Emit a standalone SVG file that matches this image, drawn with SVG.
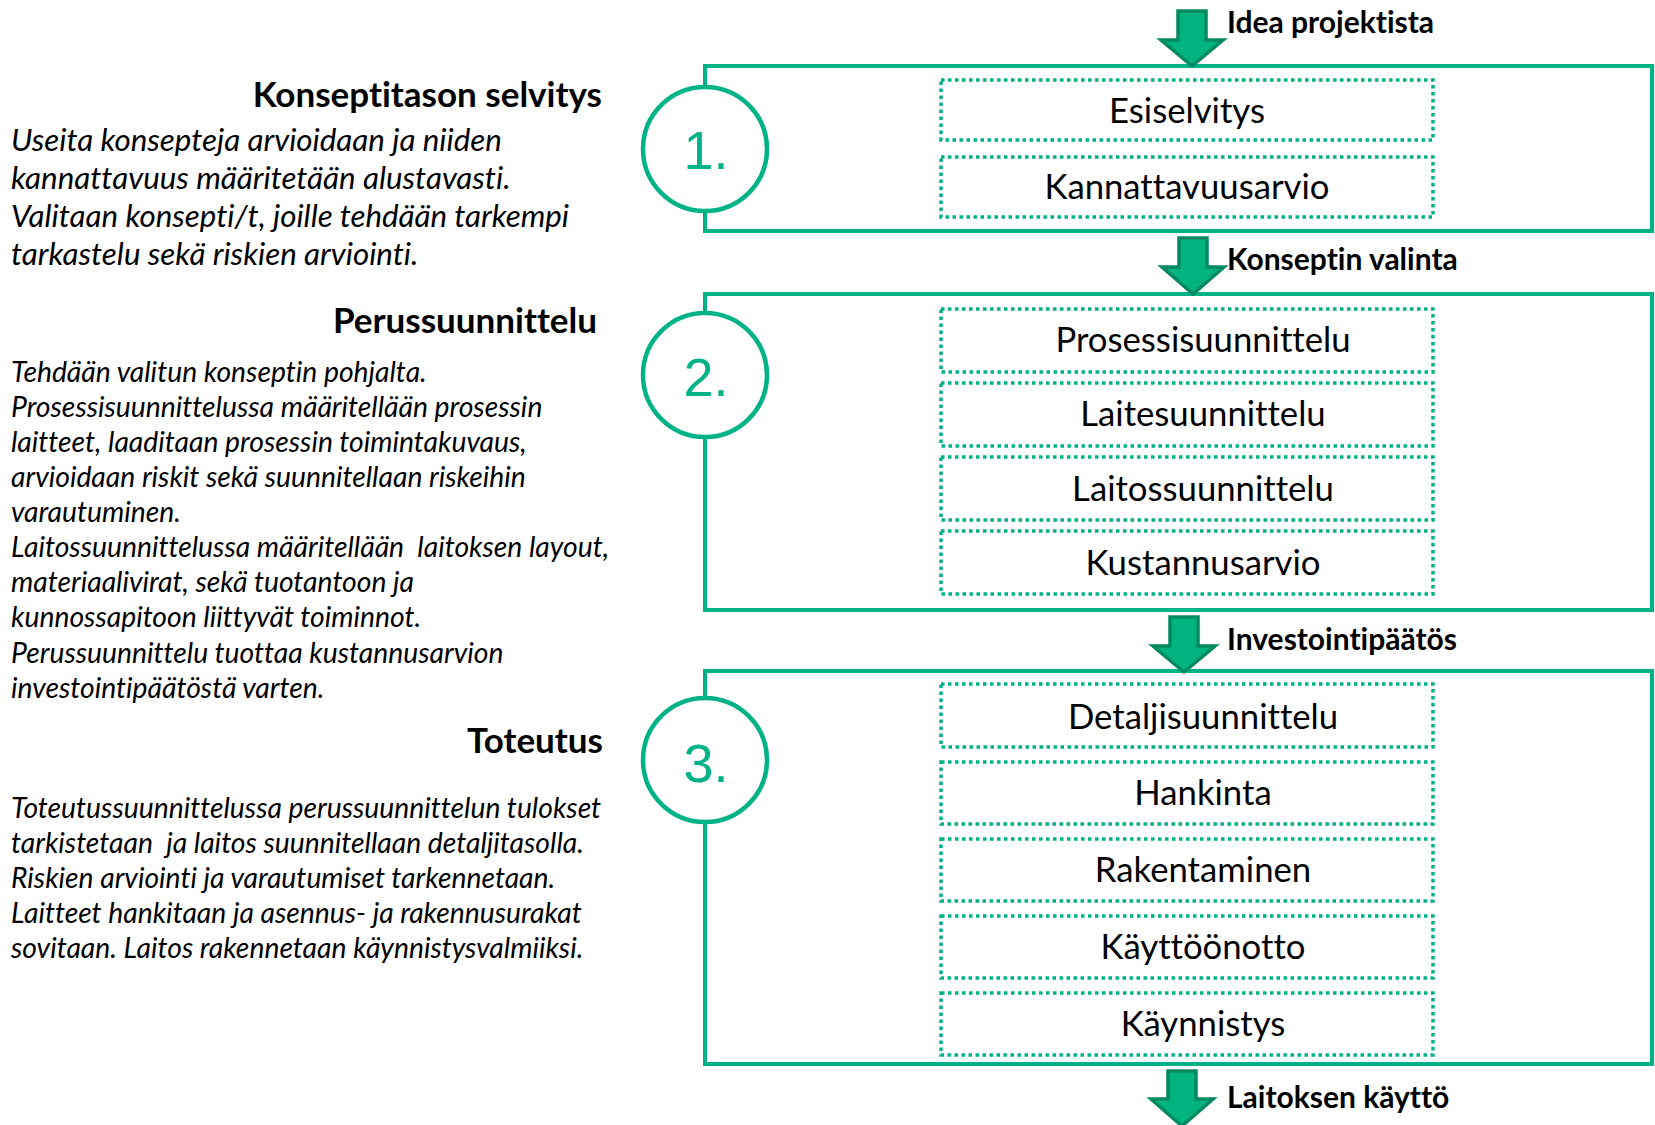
<svg xmlns="http://www.w3.org/2000/svg" width="1655" height="1125" viewBox="0 0 1655 1125">
<style>
text{font-variant-ligatures:none}
.stage{fill:none;stroke:#00B386;stroke-width:4}
.circ{fill:#ffffff;stroke:#00B386;stroke-width:4.5}
.num{font-family:"Liberation Sans",Arial,sans-serif;font-size:54px;fill:#00B386;text-anchor:middle}
.step{fill:none;stroke:#00B386;stroke-width:3.5;stroke-dasharray:3.5 3.5}
.steptxt{font-family:Lato,"Open Sans",sans-serif;font-size:34.7px;fill:#000;text-anchor:middle}
.arrow{fill:#00B37F;stroke:#008A60;stroke-width:3.5;stroke-linejoin:miter}
.alabel{font-family:Lato,"Open Sans",sans-serif;font-size:30px;font-weight:bold;fill:#000}
.head{font-family:Lato,"Open Sans",sans-serif;font-size:35px;font-weight:bold;fill:#000;text-anchor:end}
.p1{font-family:Lato,"Open Sans",sans-serif;font-size:31.3px;font-style:italic;fill:#000}
.p2{font-family:Lato,"Open Sans",sans-serif;font-size:28.3px;font-style:italic;fill:#000}
</style>
<g id="desc1">
<text class="head" x="602" y="107">Konseptitason selvitys</text>
<text class="p1" x="11" y="151">Useita konsepteja arvioidaan ja niiden</text>
<text class="p1" x="11" y="189">kannattavuus määritetään alustavasti.</text>
<text class="p1" x="11" y="227">Valitaan konsepti/t, joille tehdään tarkempi</text>
<text class="p1" x="11" y="265">tarkastelu sekä riskien arviointi.</text>
</g>
<g id="desc2">
<text class="head" x="597" y="333">Perussuunnittelu</text>
<text class="p2" x="11" y="382">Tehdään valitun konseptin pohjalta.</text>
<text class="p2" x="11" y="417">Prosessisuunnittelussa määritellään prosessin</text>
<text class="p2" x="11" y="452">laitteet, laaditaan prosessin toimintakuvaus,</text>
<text class="p2" x="11" y="487">arvioidaan riskit sekä suunnitellaan riskeihin</text>
<text class="p2" x="11" y="522">varautuminen.</text>
<text class="p2" x="11" y="557" xml:space="preserve">Laitossuunnittelussa määritellään  laitoksen layout,</text>
<text class="p2" x="11" y="592">materiaalivirat, sekä tuotantoon ja</text>
<text class="p2" x="11" y="627">kunnossapitoon liittyvät toiminnot.</text>
<text class="p2" x="11" y="663">Perussuunnittelu tuottaa kustannusarvion</text>
<text class="p2" x="11" y="698">investointipäätöstä varten.</text>
</g>
<g id="desc3">
<text class="head" x="603" y="753">Toteutus</text>
<text class="p2" x="11" y="818">Toteutussuunnittelussa perussuunnittelun tulokset</text>
<text class="p2" x="11" y="853" xml:space="preserve">tarkistetaan  ja laitos suunnitellaan detaljitasolla.</text>
<text class="p2" x="11" y="888">Riskien arviointi ja varautumiset tarkennetaan.</text>
<text class="p2" x="11" y="923">Laitteet hankitaan ja asennus- ja rakennusurakat</text>
<text class="p2" x="11" y="958">sovitaan. Laitos rakennetaan käynnistysvalmiiksi.</text>
</g>
<g id="stage1">
<rect class="stage" x="705" y="66" width="947" height="165"/>
<circle class="circ" cx="705" cy="149" r="62"/>
<text class="num" x="706" y="169">1.</text>
<g id="s1a"><rect class="step" x="941" y="80" width="492" height="60"/><text class="steptxt" x="1187" y="123">Esiselvitys</text></g>
<g id="s1b"><rect class="step" x="941" y="157" width="492" height="60"/><text class="steptxt" x="1187" y="199">Kannattavuusarvio</text></g>
</g>
<g id="stage2">
<rect class="stage" x="705" y="294" width="947" height="316"/>
<circle class="circ" cx="705" cy="375" r="62"/>
<text class="num" x="706" y="396">2.</text>
<g id="s2a"><rect class="step" x="941" y="309" width="492" height="63"/><text class="steptxt" x="1203" y="352">Prosessisuunnittelu</text></g>
<g id="s2b"><rect class="step" x="941" y="383" width="492" height="63"/><text class="steptxt" x="1203" y="426">Laitesuunnittelu</text></g>
<g id="s2c"><rect class="step" x="941" y="457" width="492" height="63"/><text class="steptxt" x="1203" y="501">Laitossuunnittelu</text></g>
<g id="s2d"><rect class="step" x="941" y="531" width="492" height="63"/><text class="steptxt" x="1203" y="575">Kustannusarvio</text></g>
</g>
<g id="stage3">
<rect class="stage" x="705" y="671" width="947" height="393"/>
<circle class="circ" cx="705" cy="760" r="62"/>
<text class="num" x="706" y="782">3.</text>
<g id="s3a"><rect class="step" x="941" y="684" width="492" height="63"/><text class="steptxt" x="1203" y="729">Detaljisuunnittelu</text></g>
<g id="s3b"><rect class="step" x="941" y="762" width="492" height="62"/><text class="steptxt" x="1203" y="805">Hankinta</text></g>
<g id="s3c"><rect class="step" x="941" y="839" width="492" height="62"/><text class="steptxt" x="1203" y="882">Rakentaminen</text></g>
<g id="s3d"><rect class="step" x="941" y="916" width="492" height="62"/><text class="steptxt" x="1203" y="959">Käyttöönotto</text></g>
<g id="s3e"><rect class="step" x="941" y="993" width="492" height="62"/><text class="steptxt" x="1203" y="1036">Käynnistys</text></g>
</g>
<g id="connectors">
<path class="arrow" d="M1178,11 L1206,11 L1206,40 L1223,40 L1192,66 L1161,40 L1178,40 Z"/>
<text class="alabel" x="1227" y="33">Idea projektista</text>
<path class="arrow" d="M1179,238 L1207,238 L1207,267 L1224,267 L1193,294 L1162,267 L1179,267 Z"/>
<text class="alabel" x="1227" y="270">Konseptin valinta</text>
<path class="arrow" d="M1170,617 L1198,617 L1198,646 L1215,646 L1184,672 L1153,646 L1170,646 Z"/>
<text class="alabel" x="1227" y="650">Investointipäätös</text>
<path class="arrow" d="M1168,1071 L1196,1071 L1196,1099 L1213,1099 L1182,1126 L1151,1099 L1168,1099 Z"/>
<text class="alabel" x="1227" y="1108">Laitoksen käyttö</text>
</g>
</svg>
